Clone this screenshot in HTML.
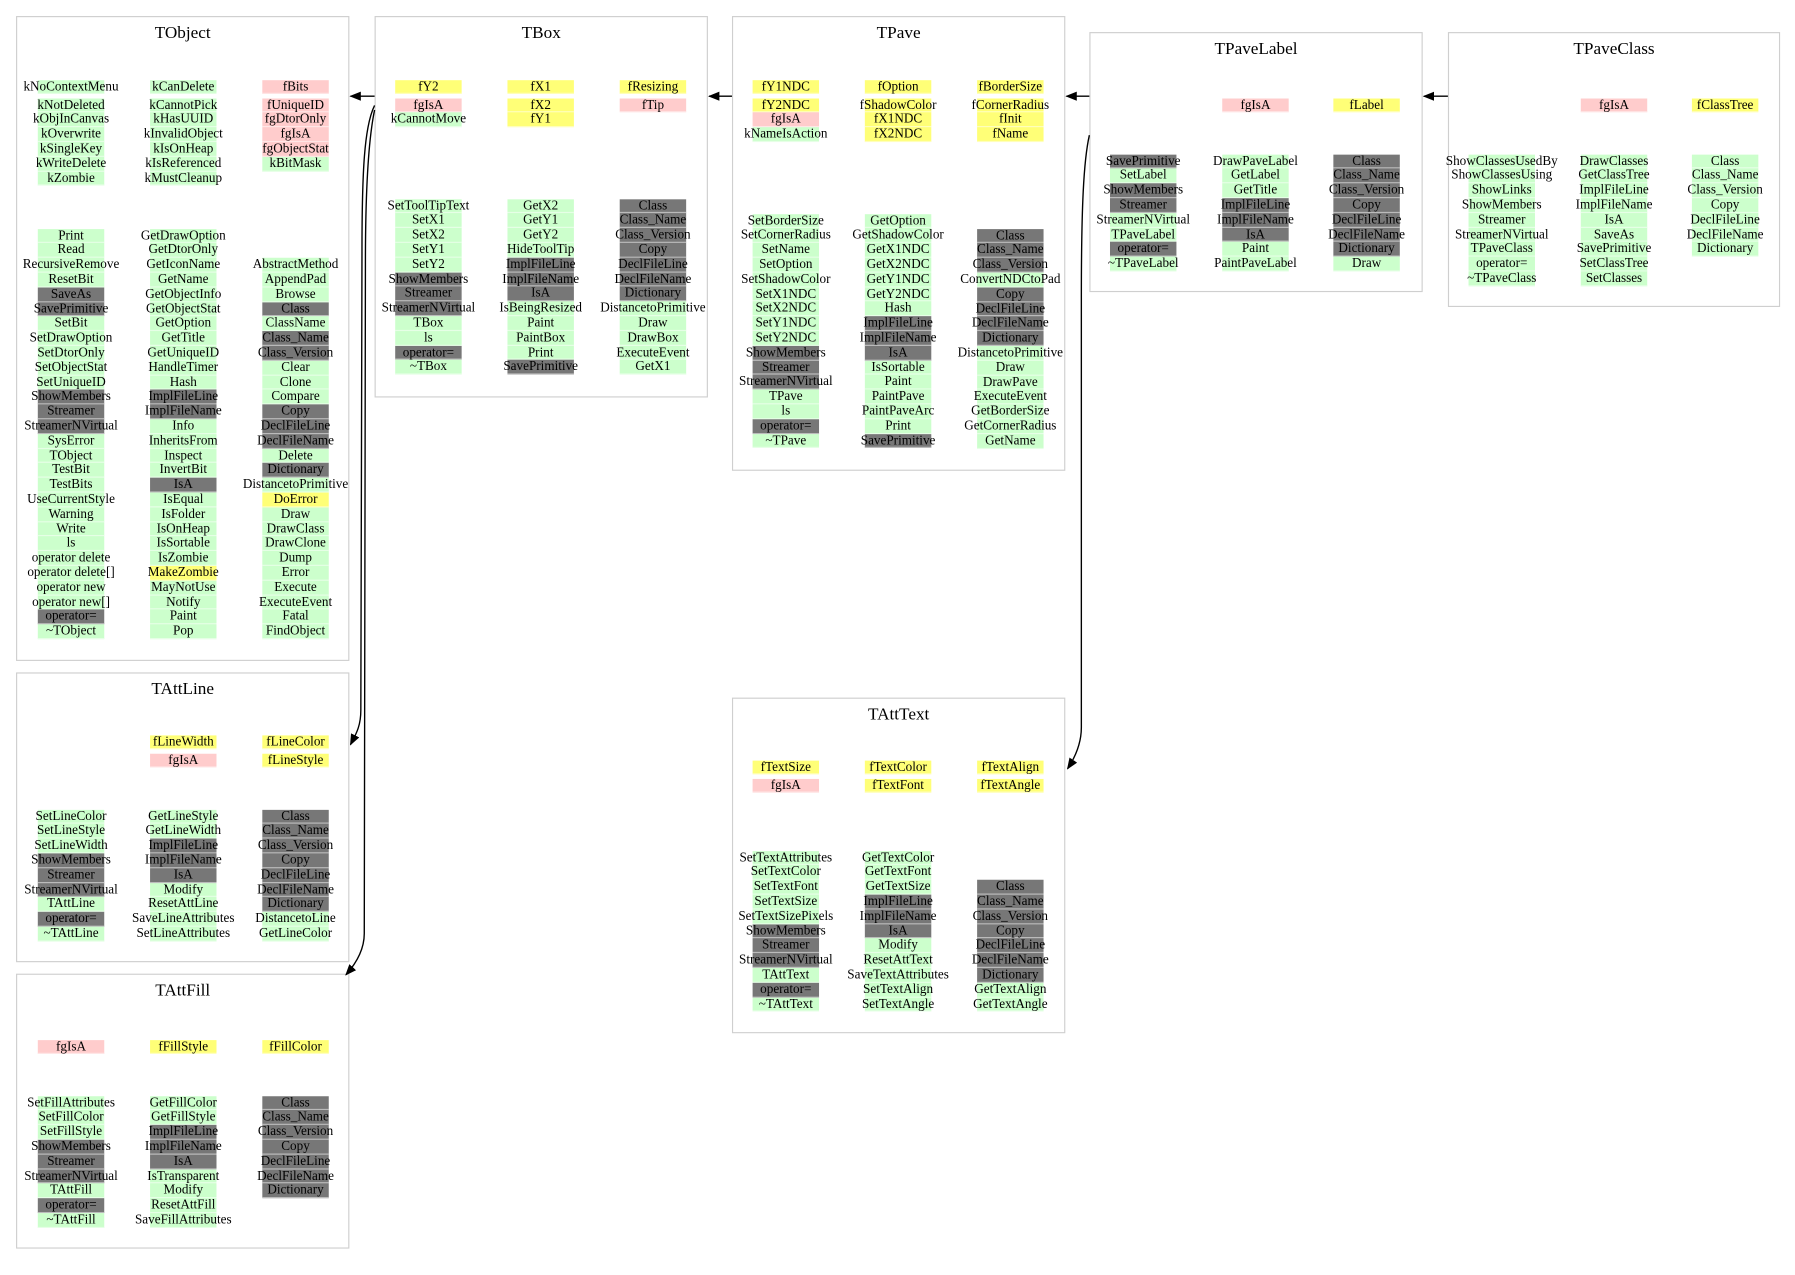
<!DOCTYPE html>
<html><head><meta charset="utf-8">
<style>
html,body{margin:0;padding:0;background:#fff;}
body{width:1795px;height:1275px;overflow:hidden;position:relative;}
#w{position:absolute;left:0;top:0;width:1560px;height:1108px;transform:scale(1.1455);transform-origin:0 0;font-family:"Liberation Serif",serif;font-size:11.5px;color:#000;}
.b{position:absolute;border:1px solid #cfcfcf;box-sizing:border-box;}
.t{position:absolute;left:0;right:0;top:6px;text-align:center;font-size:15px;}
.c{position:absolute;width:58px;}
.c div{height:12.8px;line-height:12.8px;display:flex;justify-content:center;white-space:nowrap;box-shadow:inset 0 -1px 0 rgba(255,255,255,0.5);}
.g{background:#ccffcc;}.d{background:#777777;}.p{background:#ffcccc;}.y{background:#ffff77;}
svg{position:absolute;left:0;top:0;}
</style></head><body><div id="w">

<div class="b" style="left:14px;top:14px;width:291px;height:563px"><div class="t">TObject</div></div>
<div class="b" style="left:327px;top:14px;width:291px;height:333px"><div class="t">TBox</div></div>
<div class="b" style="left:639px;top:14px;width:291px;height:397px"><div class="t">TPave</div></div>
<div class="b" style="left:951px;top:28px;width:291px;height:227px"><div class="t">TPaveLabel</div></div>
<div class="b" style="left:1264px;top:28px;width:290px;height:240px"><div class="t">TPaveClass</div></div>
<div class="b" style="left:14px;top:587px;width:291px;height:253px"><div class="t">TAttLine</div></div>
<div class="b" style="left:14px;top:850px;width:291px;height:240px"><div class="t">TAttFill</div></div>
<div class="b" style="left:639px;top:609px;width:291px;height:293px"><div class="t">TAttText</div></div>

<!-- TObject -->
<div class="c" style="left:33px;top:69.6px"><div class="g">kNoContextMenu</div></div>
<div class="c" style="left:33px;top:85.6px"><div class="g">kNotDeleted</div><div class="g">kObjInCanvas</div><div class="g">kOverwrite</div><div class="g">kSingleKey</div><div class="g">kWriteDelete</div><div class="g">kZombie</div></div>
<div class="c" style="left:131px;top:69.6px"><div class="g">kCanDelete</div></div>
<div class="c" style="left:131px;top:85.6px"><div class="g">kCannotPick</div><div class="g">kHasUUID</div><div class="g">kInvalidObject</div><div class="g">kIsOnHeap</div><div class="g">kIsReferenced</div><div class="g">kMustCleanup</div></div>
<div class="c" style="left:229px;top:69.6px"><div class="p">fBits</div></div>
<div class="c" style="left:229px;top:85.6px"><div class="p">fUniqueID</div><div class="p">fgDtorOnly</div><div class="p">fgIsA</div><div class="p">fgObjectStat</div><div class="g">kBitMask</div></div>
<div class="c" style="left:33px;top:199.6px"><div class="g">Print</div><div class="g">Read</div><div class="g">RecursiveRemove</div><div class="g">ResetBit</div><div class="d">SaveAs</div><div class="d">SavePrimitive</div><div class="g">SetBit</div><div class="g">SetDrawOption</div><div class="g">SetDtorOnly</div><div class="g">SetObjectStat</div><div class="g">SetUniqueID</div><div class="d">ShowMembers</div><div class="d">Streamer</div><div class="d">StreamerNVirtual</div><div class="g">SysError</div><div class="g">TObject</div><div class="g">TestBit</div><div class="g">TestBits</div><div class="g">UseCurrentStyle</div><div class="g">Warning</div><div class="g">Write</div><div class="g">ls</div><div class="g">operator delete</div><div class="g">operator delete[]</div><div class="g">operator new</div><div class="g">operator new[]</div><div class="d">operator=</div><div class="g">~TObject</div></div>
<div class="c" style="left:131px;top:199.6px"><div class="g">GetDrawOption</div><div class="g">GetDtorOnly</div><div class="g">GetIconName</div><div class="g">GetName</div><div class="g">GetObjectInfo</div><div class="g">GetObjectStat</div><div class="g">GetOption</div><div class="g">GetTitle</div><div class="g">GetUniqueID</div><div class="g">HandleTimer</div><div class="g">Hash</div><div class="d">ImplFileLine</div><div class="d">ImplFileName</div><div class="g">Info</div><div class="g">InheritsFrom</div><div class="g">Inspect</div><div class="g">InvertBit</div><div class="d">IsA</div><div class="g">IsEqual</div><div class="g">IsFolder</div><div class="g">IsOnHeap</div><div class="g">IsSortable</div><div class="g">IsZombie</div><div class="y">MakeZombie</div><div class="g">MayNotUse</div><div class="g">Notify</div><div class="g">Paint</div><div class="g">Pop</div></div>
<div class="c" style="left:229px;top:225.2px"><div class="g">AbstractMethod</div><div class="g">AppendPad</div><div class="g">Browse</div><div class="d">Class</div><div class="g">ClassName</div><div class="d">Class_Name</div><div class="d">Class_Version</div><div class="g">Clear</div><div class="g">Clone</div><div class="g">Compare</div><div class="d">Copy</div><div class="d">DeclFileLine</div><div class="d">DeclFileName</div><div class="g">Delete</div><div class="d">Dictionary</div><div class="g">DistancetoPrimitive</div><div class="y">DoError</div><div class="g">Draw</div><div class="g">DrawClass</div><div class="g">DrawClone</div><div class="g">Dump</div><div class="g">Error</div><div class="g">Execute</div><div class="g">ExecuteEvent</div><div class="g">Fatal</div><div class="g">FindObject</div></div>

<!-- TBox -->
<div class="c" style="left:345px;top:69.6px"><div class="y">fY2</div></div>
<div class="c" style="left:345px;top:85.6px"><div class="p">fgIsA</div><div class="g">kCannotMove</div></div>
<div class="c" style="left:443px;top:69.6px"><div class="y">fX1</div></div>
<div class="c" style="left:443px;top:85.6px"><div class="y">fX2</div><div class="y">fY1</div></div>
<div class="c" style="left:541px;top:69.6px"><div class="y">fResizing</div></div>
<div class="c" style="left:541px;top:85.6px"><div class="p">fTip</div></div>
<div class="c" style="left:345px;top:173.6px"><div class="g">SetToolTipText</div><div class="g">SetX1</div><div class="g">SetX2</div><div class="g">SetY1</div><div class="g">SetY2</div><div class="d">ShowMembers</div><div class="d">Streamer</div><div class="d">StreamerNVirtual</div><div class="g">TBox</div><div class="g">ls</div><div class="d">operator=</div><div class="g">~TBox</div></div>
<div class="c" style="left:443px;top:173.6px"><div class="g">GetX2</div><div class="g">GetY1</div><div class="g">GetY2</div><div class="g">HideToolTip</div><div class="d">ImplFileLine</div><div class="d">ImplFileName</div><div class="d">IsA</div><div class="g">IsBeingResized</div><div class="g">Paint</div><div class="g">PaintBox</div><div class="g">Print</div><div class="d">SavePrimitive</div></div>
<div class="c" style="left:541px;top:173.6px"><div class="d">Class</div><div class="d">Class_Name</div><div class="d">Class_Version</div><div class="d">Copy</div><div class="d">DeclFileLine</div><div class="d">DeclFileName</div><div class="d">Dictionary</div><div class="g">DistancetoPrimitive</div><div class="g">Draw</div><div class="g">DrawBox</div><div class="g">ExecuteEvent</div><div class="g">GetX1</div></div>

<!-- TPave -->
<div class="c" style="left:657px;top:69.6px"><div class="y">fY1NDC</div></div>
<div class="c" style="left:657px;top:85.6px"><div class="y">fY2NDC</div><div class="p">fgIsA</div><div class="g">kNameIsAction</div></div>
<div class="c" style="left:755px;top:69.6px"><div class="y">fOption</div></div>
<div class="c" style="left:755px;top:85.6px"><div class="y">fShadowColor</div><div class="y">fX1NDC</div><div class="y">fX2NDC</div></div>
<div class="c" style="left:853px;top:69.6px"><div class="y">fBorderSize</div></div>
<div class="c" style="left:853px;top:85.6px"><div class="y">fCornerRadius</div><div class="y">fInit</div><div class="y">fName</div></div>
<div class="c" style="left:657px;top:186.6px"><div class="g">SetBorderSize</div><div class="g">SetCornerRadius</div><div class="g">SetName</div><div class="g">SetOption</div><div class="g">SetShadowColor</div><div class="g">SetX1NDC</div><div class="g">SetX2NDC</div><div class="g">SetY1NDC</div><div class="g">SetY2NDC</div><div class="d">ShowMembers</div><div class="d">Streamer</div><div class="d">StreamerNVirtual</div><div class="g">TPave</div><div class="g">ls</div><div class="d">operator=</div><div class="g">~TPave</div></div>
<div class="c" style="left:755px;top:186.6px"><div class="g">GetOption</div><div class="g">GetShadowColor</div><div class="g">GetX1NDC</div><div class="g">GetX2NDC</div><div class="g">GetY1NDC</div><div class="g">GetY2NDC</div><div class="g">Hash</div><div class="d">ImplFileLine</div><div class="d">ImplFileName</div><div class="d">IsA</div><div class="g">IsSortable</div><div class="g">Paint</div><div class="g">PaintPave</div><div class="g">PaintPaveArc</div><div class="g">Print</div><div class="d">SavePrimitive</div></div>
<div class="c" style="left:853px;top:199.6px"><div class="d">Class</div><div class="d">Class_Name</div><div class="d">Class_Version</div><div class="g">ConvertNDCtoPad</div><div class="d">Copy</div><div class="d">DeclFileLine</div><div class="d">DeclFileName</div><div class="d">Dictionary</div><div class="g">DistancetoPrimitive</div><div class="g">Draw</div><div class="g">DrawPave</div><div class="g">ExecuteEvent</div><div class="g">GetBorderSize</div><div class="g">GetCornerRadius</div><div class="g">GetName</div></div>

<!-- TPaveLabel -->
<div class="c" style="left:1067px;top:85.6px"><div class="p">fgIsA</div></div>
<div class="c" style="left:1164px;top:85.6px"><div class="y">fLabel</div></div>
<div class="c" style="left:969px;top:134.6px"><div class="d">SavePrimitive</div><div class="g">SetLabel</div><div class="d">ShowMembers</div><div class="d">Streamer</div><div class="g">StreamerNVirtual</div><div class="g">TPaveLabel</div><div class="d">operator=</div><div class="g">~TPaveLabel</div></div>
<div class="c" style="left:1067px;top:134.6px"><div class="g">DrawPaveLabel</div><div class="g">GetLabel</div><div class="g">GetTitle</div><div class="d">ImplFileLine</div><div class="d">ImplFileName</div><div class="d">IsA</div><div class="g">Paint</div><div class="g">PaintPaveLabel</div></div>
<div class="c" style="left:1164px;top:134.6px"><div class="d">Class</div><div class="d">Class_Name</div><div class="d">Class_Version</div><div class="d">Copy</div><div class="d">DeclFileLine</div><div class="d">DeclFileName</div><div class="d">Dictionary</div><div class="g">Draw</div></div>

<!-- TPaveClass -->
<div class="c" style="left:1380px;top:85.6px"><div class="p">fgIsA</div></div>
<div class="c" style="left:1477px;top:85.6px"><div class="y">fClassTree</div></div>
<div class="c" style="left:1282px;top:134.6px"><div class="g">ShowClassesUsedBy</div><div class="g">ShowClassesUsing</div><div class="g">ShowLinks</div><div class="g">ShowMembers</div><div class="g">Streamer</div><div class="g">StreamerNVirtual</div><div class="g">TPaveClass</div><div class="g">operator=</div><div class="g">~TPaveClass</div></div>
<div class="c" style="left:1380px;top:134.6px"><div class="g">DrawClasses</div><div class="g">GetClassTree</div><div class="g">ImplFileLine</div><div class="g">ImplFileName</div><div class="g">IsA</div><div class="g">SaveAs</div><div class="g">SavePrimitive</div><div class="g">SetClassTree</div><div class="g">SetClasses</div></div>
<div class="c" style="left:1477px;top:134.6px"><div class="g">Class</div><div class="g">Class_Name</div><div class="g">Class_Version</div><div class="g">Copy</div><div class="g">DeclFileLine</div><div class="g">DeclFileName</div><div class="g">Dictionary</div></div>

<!-- TAttLine -->
<div class="c" style="left:131px;top:641.6px"><div class="y">fLineWidth</div></div>
<div class="c" style="left:131px;top:657.6px"><div class="p">fgIsA</div></div>
<div class="c" style="left:229px;top:641.6px"><div class="y">fLineColor</div></div>
<div class="c" style="left:229px;top:657.6px"><div class="y">fLineStyle</div></div>
<div class="c" style="left:33px;top:706.6px"><div class="g">SetLineColor</div><div class="g">SetLineStyle</div><div class="g">SetLineWidth</div><div class="d">ShowMembers</div><div class="d">Streamer</div><div class="d">StreamerNVirtual</div><div class="g">TAttLine</div><div class="d">operator=</div><div class="g">~TAttLine</div></div>
<div class="c" style="left:131px;top:706.6px"><div class="g">GetLineStyle</div><div class="g">GetLineWidth</div><div class="d">ImplFileLine</div><div class="d">ImplFileName</div><div class="d">IsA</div><div class="g">Modify</div><div class="g">ResetAttLine</div><div class="g">SaveLineAttributes</div><div class="g">SetLineAttributes</div></div>
<div class="c" style="left:229px;top:706.6px"><div class="d">Class</div><div class="d">Class_Name</div><div class="d">Class_Version</div><div class="d">Copy</div><div class="d">DeclFileLine</div><div class="d">DeclFileName</div><div class="d">Dictionary</div><div class="g">DistancetoLine</div><div class="g">GetLineColor</div></div>

<!-- TAttFill -->
<div class="c" style="left:33px;top:907.6px"><div class="p">fgIsA</div></div>
<div class="c" style="left:131px;top:907.6px"><div class="y">fFillStyle</div></div>
<div class="c" style="left:229px;top:907.6px"><div class="y">fFillColor</div></div>
<div class="c" style="left:33px;top:956.6px"><div class="g">SetFillAttributes</div><div class="g">SetFillColor</div><div class="g">SetFillStyle</div><div class="d">ShowMembers</div><div class="d">Streamer</div><div class="d">StreamerNVirtual</div><div class="g">TAttFill</div><div class="d">operator=</div><div class="g">~TAttFill</div></div>
<div class="c" style="left:131px;top:956.6px"><div class="g">GetFillColor</div><div class="g">GetFillStyle</div><div class="d">ImplFileLine</div><div class="d">ImplFileName</div><div class="d">IsA</div><div class="g">IsTransparent</div><div class="g">Modify</div><div class="g">ResetAttFill</div><div class="g">SaveFillAttributes</div></div>
<div class="c" style="left:229px;top:956.6px"><div class="d">Class</div><div class="d">Class_Name</div><div class="d">Class_Version</div><div class="d">Copy</div><div class="d">DeclFileLine</div><div class="d">DeclFileName</div><div class="d">Dictionary</div></div>

<!-- TAttText -->
<div class="c" style="left:657px;top:663.6px"><div class="y">fTextSize</div></div>
<div class="c" style="left:657px;top:679.6px"><div class="p">fgIsA</div></div>
<div class="c" style="left:755px;top:663.6px"><div class="y">fTextColor</div></div>
<div class="c" style="left:755px;top:679.6px"><div class="y">fTextFont</div></div>
<div class="c" style="left:853px;top:663.6px"><div class="y">fTextAlign</div></div>
<div class="c" style="left:853px;top:679.6px"><div class="y">fTextAngle</div></div>
<div class="c" style="left:657px;top:742.6px"><div class="g">SetTextAttributes</div><div class="g">SetTextColor</div><div class="g">SetTextFont</div><div class="g">SetTextSize</div><div class="g">SetTextSizePixels</div><div class="d">ShowMembers</div><div class="d">Streamer</div><div class="d">StreamerNVirtual</div><div class="g">TAttText</div><div class="d">operator=</div><div class="g">~TAttText</div></div>
<div class="c" style="left:755px;top:742.6px"><div class="g">GetTextColor</div><div class="g">GetTextFont</div><div class="g">GetTextSize</div><div class="d">ImplFileLine</div><div class="d">ImplFileName</div><div class="d">IsA</div><div class="g">Modify</div><div class="g">ResetAttText</div><div class="g">SaveTextAttributes</div><div class="g">SetTextAlign</div><div class="g">SetTextAngle</div></div>
<div class="c" style="left:853px;top:768.2px"><div class="d">Class</div><div class="d">Class_Name</div><div class="d">Class_Version</div><div class="d">Copy</div><div class="d">DeclFileLine</div><div class="d">DeclFileName</div><div class="d">Dictionary</div><div class="g">GetTextAlign</div><div class="g">GetTextAngle</div></div>

<svg width="1560" height="1108" viewBox="0 0 1560 1108">
<defs><marker id="a" markerWidth="10" markerHeight="8" refX="9" refY="4" orient="auto" markerUnits="userSpaceOnUse"><path d="M0,0 L10,4 L0,8 z" fill="#000"/></marker></defs>
<g stroke="#000" stroke-width="1.2" fill="none">
<path d="M327,84 L306,84" marker-end="url(#a)"/>
<path d="M639,84 L619,84" marker-end="url(#a)"/>
<path d="M951,84 L931,84" marker-end="url(#a)"/>
<path d="M1264,84 L1243,84" marker-end="url(#a)"/>
<path d="M327,92 C318,110 316,150 316,220 L315,620 C315,635 310,642 306,650" marker-end="url(#a)"/>
<path d="M327,96 C322,120 319,160 319,230 L318,815 C318,830 310,842 302,851" marker-end="url(#a)"/>
<path d="M951,118 C946,140 944,180 944,260 L944,635 C944,650 938,662 932,671" marker-end="url(#a)"/>
</g>
</svg>
</div></body></html>
